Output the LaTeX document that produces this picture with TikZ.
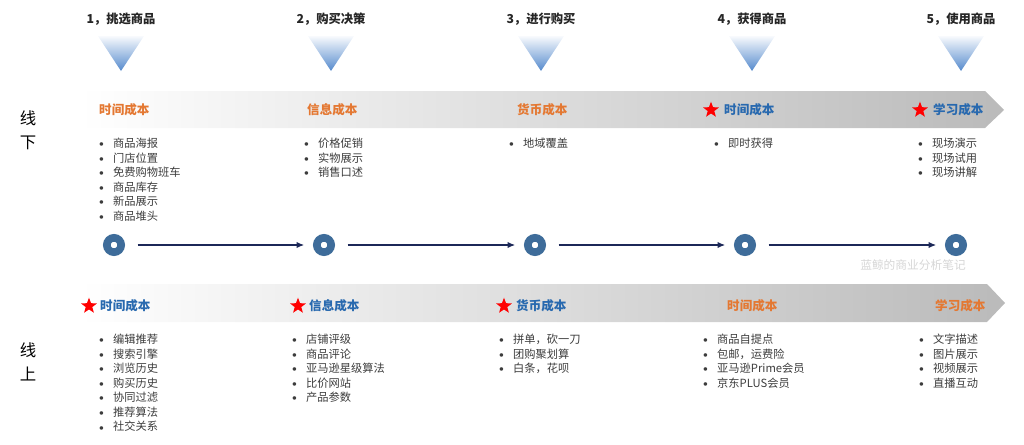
\documentclass[tikz,border=0pt]{standalone}
\usepackage{fontspec}
\newfontfamily\cjk{Noto Sans CJK SC}
\usetikzlibrary{shapes.geometric,arrows.meta}

\definecolor{costorange}{RGB}{228,120,50}
\definecolor{costblue}{RGB}{40,105,175}
\definecolor{ringblue}{RGB}{62,108,154}
\definecolor{linknavy}{RGB}{28,40,88}
\definecolor{triblue}{RGB}{85,138,205}
\definecolor{itemgray}{RGB}{60,60,60}

% 箇条書きの点
\newcommand{\bul}{\makebox[0.42cm][l]{\raisebox{0.15ex}{$\scriptstyle\bullet$}}}

\begin{document}
\begin{tikzpicture}[x=0.03cm, y=-0.03cm,
  steptitle/.style={font=\cjk\bfseries\fontsize{10.5}{12}\selectfont, text=black!85},
  costlbl/.style={anchor=west, inner sep=0, font=\cjk\bfseries\fontsize{10.7}{12}\selectfont},
  itemlist/.style={anchor=north west, inner sep=0, align=left, text=itemgray,
    font=\cjk\fontsize{9.6}{12.4}\selectfont},
  sidelbl/.style={font=\cjk\fontsize{14}{16}\selectfont},
  ring/.style={circle, draw=ringblue, line width=0.23cm, fill=white, minimum size=0.43cm, inner sep=0},
  redstar/.style={star, star points=5, star point ratio=2.4, fill=red, minimum size=0.5cm, inner sep=0},
  link/.style={draw=linknavy, line width=0.9pt, -{Latex[length=2.2mm,width=1.9mm]},
    shorten <=0.38cm, shorten >=0.27cm}]
  \useasboundingbox (0,0) rectangle (1024,445);

  % 段階の見出しと逆三角形
  \foreach \i/\cx/\ttl in {1/121/{1，挑选商品}, 2/331/{2，购买决策}, 3/541/{3，进行购买},
                            4/752/{4，获得商品}, 5/961/{5，使用商品}} {
    \node[steptitle] (t\i) at (\cx,19) {\ttl};
    \shade[top color=triblue!4, bottom color=triblue]
      (\cx-23,36) -- (\cx+23,36) -- (\cx,71) -- cycle;
  }

  % 灰色の帯（上下）
  \shade[left color=white, right color=black!27]
    (80,91) -- (985,91) -- (1004,110) -- (985,128) -- (80,128) -- cycle;
  \shade[left color=white, right color=black!27]
    (80,284) -- (987,284) -- (1005,303) -- (987,322) -- (80,322) -- cycle;

  % 線下 / 線上
  \node[sidelbl] (offa) at (28,118) {线};
  \node[sidelbl] (offb) at (28,143) {下};
  \node[sidelbl] (ona) at (28,350) {线};
  \node[sidelbl] (onb) at (28,374) {上};

  % 線下のコスト
  \node[costlbl, text=costorange] (u1) at (99,110) {时间成本};
  \node[costlbl, text=costorange] (u2) at (307,110) {信息成本};
  \node[costlbl, text=costorange] (u3) at (517,110) {货币成本};
  \node[redstar] (su4) at (711,110) {};
  \node[costlbl, text=costblue] (u4) at (724,110) {时间成本};
  \node[redstar] (su5) at (920,110) {};
  \node[costlbl, text=costblue] (u5) at (933,110) {学习成本};

  \node[itemlist] (ul1) at (99,138) {\bul 商品海报\\ \bul 门店位置\\ \bul 免费购物班车\\
    \bul 商品库存\\ \bul 新品展示\\ \bul 商品堆头};
  \node[itemlist] (ul2) at (304,138) {\bul 价格促销\\ \bul 实物展示\\ \bul 销售口述};
  \node[itemlist] (ul3) at (509,138) {\bul 地域覆盖};
  \node[itemlist] (ul4) at (714,138) {\bul 即时获得};
  \node[itemlist] (ul5) at (918,138) {\bul 现场演示\\ \bul 现场试用\\ \bul 现场讲解};

  % 時系列の丸と矢印
  \foreach \i/\cx in {1/114, 2/324, 3/535, 4/745, 5/956}
    \node[ring] (c\i) at (\cx,245) {};
  \foreach \i/\j in {1/2, 2/3, 3/4, 4/5}
    \draw[link] (c\i) -- (c\j);

  \node[font=\cjk\fontsize{10}{12}\selectfont, text=black!16] (wm) at (913,265) {蓝鲸的商业分析笔记};

  % 線上のコスト
  \node[redstar] (sl1) at (89,306) {};
  \node[costlbl, text=costblue] (l1) at (100,306) {时间成本};
  \node[redstar] (sl2) at (298,306) {};
  \node[costlbl, text=costblue] (l2) at (309,306) {信息成本};
  \node[redstar] (sl3) at (504,306) {};
  \node[costlbl, text=costblue] (l3) at (516,306) {货币成本};
  \node[costlbl, text=costorange] (l4) at (727,306) {时间成本};
  \node[costlbl, text=costorange] (l5) at (935,306) {学习成本};

  \node[itemlist] (ll1) at (99,334) {\bul 编辑推荐\\ \bul 搜索引擎\\ \bul 浏览历史\\
    \bul 购买历史\\ \bul 协同过滤\\ \bul 推荐算法\\ \bul 社交关系};
  \node[itemlist] (ll2) at (292,334) {\bul 店铺评级\\ \bul 商品评论\\ \bul 亚马逊星级算法\\
    \bul 比价网站\\ \bul 产品参数};
  \node[itemlist] (ll3) at (499,334) {\bul 拼单，砍一刀\\ \bul 团购聚划算\\ \bul 白条，花呗};
  \node[itemlist] (ll4) at (703,334) {\bul 商品自提点\\ \bul 包邮，运费险\\ \bul 亚马逊Prime会员\\
    \bul 京东PLUS会员};
  \node[itemlist] (ll5) at (919,334) {\bul 文字描述\\ \bul 图片展示\\ \bul 视频展示\\ \bul 直播互动};
\end{tikzpicture}
\end{document}
